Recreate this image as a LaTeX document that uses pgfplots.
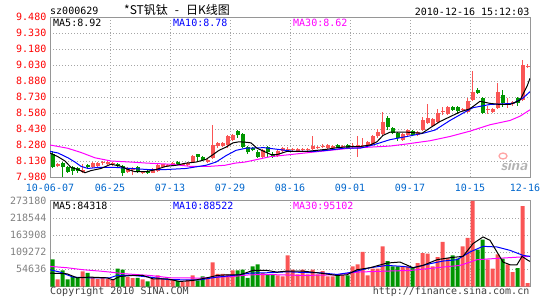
\documentclass[border=0pt]{standalone}
\usepackage{pgfplots}
\pgfplotsset{compat=1.18}
\usepackage{pgfplotstable}
\usepackage{fontspec}
\setmonofont{DejaVu Sans Mono}
\newfontfamily\cjk{Noto Sans CJK SC}
\definecolor{kred}{RGB}{250,85,85}
\definecolor{kgreen}{RGB}{0,150,0}
\definecolor{datecol}{RGB}{0,102,204}
\definecolor{framec}{RGB}{150,150,150}
\definecolor{gridc}{RGB}{165,165,165}
\definecolor{ma10}{RGB}{0,0,255}
\definecolor{ma30}{RGB}{255,0,255}
\newcommand{\mono}{\ttfamily\fontsize{10}{10}\selectfont}

\pgfplotstableread{
i o h l c
1 8.08 8.11 8.07 8.10
6 8.03 8.10 8.02 8.05
8 8.07 8.12 8.06 8.11
9 8.08 8.12 8.07 8.11
10 8.11 8.13 8.09 8.12
11 8.10 8.13 8.09 8.12
12 8.10 8.12 8.08 8.11
15 8.03 8.07 8.02 8.06
16 8.05 8.07 8.00 8.06
18 8.02 8.04 8.01 8.03
20 8.02 8.06 8.02 8.05
21 8.04 8.10 8.03 8.09
22 8.07 8.10 8.06 8.10
23 8.08 8.10 8.07 8.09
24 8.09 8.12 8.08 8.11
26 8.09 8.11 8.08 8.10
27 8.09 8.12 8.08 8.11
28 8.12 8.19 8.11 8.18
31 8.12 8.15 8.11 8.14
32 8.16 8.47 8.15 8.28
33 8.27 8.31 8.25 8.30
34 8.27 8.31 8.26 8.30
35 8.28 8.37 8.25 8.36
36 8.33 8.38 8.32 8.37
42 8.17 8.24 8.15 8.23
45 8.18 8.24 8.17 8.22
46 8.22 8.26 8.21 8.25
47 8.23 8.26 8.22 8.24
48 8.23 8.25 8.22 8.24
49 8.22 8.25 8.21 8.24
50 8.23 8.25 8.22 8.24
51 8.23 8.25 8.22 8.24
52 8.24 8.36 8.23 8.27
53 8.25 8.27 8.24 8.26
54 8.26 8.29 8.25 8.27
55 8.25 8.29 8.24 8.28
56 8.25 8.28 8.24 8.27
58 8.26 8.28 8.25 8.27
60 8.26 8.30 8.25 8.27
61 8.26 8.36 8.17 8.28
62 8.27 8.35 8.26 8.28
63 8.27 8.32 8.26 8.31
64 8.29 8.37 8.28 8.36
65 8.36 8.43 8.35 8.40
66 8.38 8.59 8.37 8.50
70 8.33 8.39 8.32 8.38
71 8.37 8.43 8.36 8.42
73 8.37 8.41 8.36 8.40
74 8.42 8.54 8.41 8.51
75 8.49 8.66 8.48 8.53
76 8.46 8.53 8.45 8.52
77 8.50 8.62 8.49 8.58
78 8.59 8.64 8.56 8.60
79 8.57 8.65 8.56 8.64
82 8.61 8.63 8.60 8.62
83 8.59 8.72 8.58 8.69
84 8.70 8.97 8.69 8.78
87 8.61 8.65 8.57 8.62
88 8.59 8.63 8.58 8.62
89 8.63 8.86 8.62 8.78
91 8.66 8.72 8.63 8.67
92 8.66 8.69 8.65 8.68
94 8.70 9.08 8.69 9.03
95 9.01 9.04 9.00 9.02
}\redk

\pgfplotstableread{
i o h l c
0 8.20 8.22 8.06 8.07
2 8.11 8.12 7.98 8.07
3 8.07 8.08 8.02 8.03
4 8.07 8.08 8.00 8.04
5 8.06 8.07 8.02 8.04
7 8.09 8.10 8.06 8.07
13 8.10 8.11 8.07 8.08
14 8.08 8.09 7.99 8.02
17 8.07 8.08 8.02 8.03
19 8.04 8.05 8.01 8.02
25 8.12 8.13 8.09 8.10
29 8.20 8.20 8.13 8.17
30 8.17 8.18 8.13 8.14
37 8.41 8.42 8.35 8.37
38 8.38 8.39 8.25 8.26
39 8.26 8.27 8.20 8.21
40 8.25 8.26 8.22 8.23
41 8.21 8.23 8.16 8.17
43 8.26 8.27 8.17 8.21
44 8.20 8.21 8.16 8.17
57 8.28 8.29 8.25 8.26
59 8.28 8.29 8.24 8.25
67 8.53 8.55 8.42 8.45
68 8.44 8.45 8.38 8.39
69 8.39 8.40 8.32 8.35
72 8.41 8.42 8.36 8.37
80 8.64 8.65 8.60 8.61
81 8.64 8.65 8.57 8.60
85 8.80 8.81 8.76 8.77
86 8.72 8.73 8.57 8.58
90 8.75 8.80 8.64 8.67
93 8.72 8.73 8.65 8.67
}\greenk

\pgfplotstableread{
i v
1 22400
6 48000
8 29900
9 24500
10 26700
11 24500
12 22400
15 29900
16 26700
18 22400
20 24500
21 35200
22 24500
23 21300
24 22400
26 13900
27 22000
28 35200
31 24500
32 76800
33 40500
34 40500
35 38400
36 51200
42 42700
45 35200
46 32000
47 99200
48 53400
49 38400
50 53400
51 38400
52 53400
53 38400
54 49100
55 32000
56 32000
58 35200
60 64000
61 70400
62 110000
63 35200
64 56600
65 56600
66 128000
70 64000
71 64000
73 74700
74 106700
75 104600
76 64000
77 93900
78 141900
79 90700
82 128000
83 154700
84 273180
87 85400
88 56600
89 102400
91 70400
92 45900
94 256100
95 10700
}\volred

\pgfplotstableread{
i v
0 86400
2 51200
3 22400
4 29900
5 26700
7 43700
13 56600
14 53400
17 27700
19 16000
25 17100
29 19200
30 32000
37 51200
38 53400
39 27700
40 64000
41 70400
43 37300
44 38400
57 38400
59 35200
67 81100
68 64000
69 64000
72 59800
80 99200
81 88600
85 117400
86 149400
90 88600
93 58700
}\volgreen

\pgfplotsset{
  kbase/.style={
    scale only axis, anchor=south west,
    xmin=-0.5, xmax=95.5,
    axis line style={framec, line width=0.8pt},
    major tick length=0pt,
    grid=major,
    grid style={gridc, line width=0.8pt, dash pattern=on 0.8pt off 2.2pt},
    xtick={-0.5,11.5,23.5,35.5,47.5,59.5,71.5,83.5},
    scaled y ticks=false,
    yticklabel style={font=\mono, anchor=east, inner sep=0pt, xshift=-3.5pt},
  },
  wick/.style={draw=none, mark=none, forget plot,
    error bars/.cd, y dir=plus, y explicit, error mark=none,
    error bar style={draw=#1, solid, line width=1pt}},
  body/.style={draw=none, mark=none, forget plot,
    error bars/.cd, y dir=plus, y explicit, error mark=none,
    error bar style={draw=#1, solid, line width=4pt}},
}

\begin{document}
\begin{tikzpicture}
\useasboundingbox (0pt,0pt) rectangle (545pt,300pt);

% ---------- price panel ----------
\begin{axis}[kbase,
  at={(50pt,123pt)}, width=480pt, height=160pt,
  ymin=7.98, ymax=9.48,
  ytick={7.98,8.13,8.28,8.43,8.58,8.73,8.88,9.03,9.18,9.33,9.48},
  yticklabels={7.980,8.130,8.280,8.430,8.580,8.730,8.880,9.030,9.180,9.330,9.480},
  yticklabel style={text=red},
  xticklabels={10-06-07,06-25,07-13,07-29,08-16,09-01,09-17,10-15},
  extra x ticks={94.5}, extra x tick labels={12-16},
  extra x tick style={grid=none},
  xticklabel style={font=\mono, text=datecol, anchor=center, inner sep=0pt, yshift=-11.3pt},
]
\addplot[wick=kred] table[x=i, y=l, y error plus expr=\thisrow{h}-\thisrow{l}] {\redk};
\addplot[wick=kgreen] table[x=i, y=l, y error plus expr=\thisrow{h}-\thisrow{l}] {\greenk};
\addplot[body=kred] table[x=i, y=o, y error plus expr=\thisrow{c}-\thisrow{o}] {\redk};
\addplot[body=kgreen] table[x=i, y=c, y error plus expr=\thisrow{o}-\thisrow{c}] {\greenk};

\addplot[ma30, line width=1pt, mark=none] coordinates {
(-0.5,8.28) (3.0,8.25) (5.7,8.21) (8.5,8.16) (11.7,8.13) (15.7,8.12) (19.0,8.11)
(23.5,8.10) (27.5,8.08) (31.5,8.08) (34.5,8.09) (36.5,8.11) (38.5,8.12) (41.5,8.15)
(43.5,8.17) (47.5,8.19) (51.5,8.21) (55.5,8.23) (59.5,8.25) (63.5,8.26) (67.5,8.27)
(70.9,8.29) (75.5,8.32) (79.5,8.36) (83.5,8.41) (87.5,8.47) (91.5,8.51) (93.5,8.55) (95.5,8.61)};
\addplot[ma10, line width=1pt, mark=none] coordinates {
(-0.5,8.22) (1.1,8.205) (3.1,8.16) (4.5,8.12) (5.7,8.08) (7.1,8.06) (9.1,8.07) (12.5,8.07)
(15.7,8.06) (19.1,8.05) (22.7,8.05) (26.7,8.06) (30.7,8.09) (32.7,8.12) (34.7,8.18)
(36.7,8.23) (38.7,8.25) (42.3,8.255) (44.9,8.24) (48.3,8.22) (52.3,8.22) (54.9,8.23)
(58.3,8.25) (61.5,8.25) (64.1,8.28) (67.5,8.33) (70.9,8.36) (74.1,8.39) (76.5,8.42)
(79.5,8.51) (82.9,8.60) (84.1,8.63) (87.5,8.66) (92.1,8.67) (94.1,8.72) (95.5,8.78)};
\addplot[black, line width=1pt, mark=none] coordinates {
(-0.5,8.205) (1.1,8.17) (2.5,8.13) (3.7,8.07) (5.1,8.05) (6.5,8.02) (7.7,8.04) (9.7,8.06)
(11.7,8.10) (13.7,8.08) (15.1,8.05) (16.5,8.03) (18.7,8.03) (20.7,8.05) (22.7,8.08)
(24.7,8.09) (26.7,8.11) (28.7,8.12) (30.7,8.145) (32.1,8.19) (33.3,8.23) (34.7,8.26)
(36.1,8.30) (37.3,8.31) (38.9,8.305) (39.7,8.30) (40.9,8.25) (42.3,8.22) (43.7,8.19)
(44.9,8.19) (46.9,8.22) (48.9,8.22) (50.9,8.22) (52.9,8.23) (54.9,8.24) (56.9,8.255)
(59.5,8.265) (61.5,8.265) (63.5,8.28) (64.9,8.31) (66.1,8.37) (67.5,8.40) (70.9,8.40)
(72.5,8.395) (73.9,8.39) (75.5,8.44) (77.5,8.50) (79.5,8.545) (81.5,8.59) (83.5,8.62)
(85.5,8.69) (87.5,8.67) (89.5,8.66) (91.5,8.66) (93.5,8.70) (94.9,8.83) (95.5,8.905)};
\end{axis}

% ---------- volume panel ----------
\begin{axis}[kbase,
  at={(50pt,13.5pt)}, width=480pt, height=85.75pt,
  ymin=0, ymax=273180,
  ytick={54636,109272,163908,218544,273180},
  yticklabels={54636,109272,163908,218544,273180},
  yticklabel style={text=gray},
  xticklabels={},
]
\addplot[ybar, bar width=0.8, bar shift=0pt, fill=kred, draw=none, mark=none] table[x=i, y=v] {\volred};
\addplot[ybar, bar width=0.8, bar shift=0pt, fill=kgreen, draw=none, mark=none] table[x=i, y=v] {\volgreen};

\addplot[ma30, line width=1pt, mark=none] coordinates {
(-0.5,64000) (2.9,59800) (6.1,53400) (9.5,49100) (11.5,45900) (14.5,40500) (19.5,35200)
(23.5,27700) (26.9,27700) (29.5,26700) (32.9,29900) (36.1,32000) (39.5,37300) (43.5,38000)
(50.1,35200) (56.9,37300) (60.9,45900) (66.9,49100) (71.5,51200) (74.9,56600) (78.1,61900)
(81.5,67200) (84.9,85400) (86.9,87500) (90.1,90700) (93.5,93900) (95.5,96000)};
\addplot[ma10, line width=1pt, mark=none] coordinates {
(-0.5,53400) (1.5,45900) (4.1,29900) (7.5,27700) (11.5,27700) (12.9,35200) (16.1,35200)
(19.5,29900) (22.9,22400) (26.1,21300) (29.5,21300) (32.9,29900) (36.1,35200) (39.5,42700)
(43.5,44000) (46.9,46900) (50.1,44800) (53.5,43700) (56.9,38400) (60.1,45900) (63.5,59800)
(66.9,67200) (70.1,64000) (72.1,59800) (75.5,72600) (78.1,81100) (80.9,85400) (83.5,109900)
(86.1,128000) (88.9,125900) (91.5,115200) (94.1,99200) (95.5,96000)};
\addplot[black, line width=1pt, mark=none] coordinates {
(-0.5,42700) (2.9,40500) (4.9,27700) (7.5,29900) (10.9,27700) (12.1,21300) (13.5,32000)
(16.1,35200) (18.1,35200) (20.1,24500) (22.9,24500) (25.5,16000) (28.1,19200) (30.9,27700)
(32.9,35200) (34.9,37300) (37.5,37300) (40.1,51200) (42.9,51200) (44.9,45900) (46.9,49100)
(50.1,49100) (53.5,42700) (56.9,35200) (58.9,37300) (60.9,53400) (63.5,59800) (66.9,74700)
(69.5,77900) (72.1,59800) (74.1,67200) (76.9,85400) (79.5,91800) (82.1,96000) (84.1,136600)
(86.1,157900) (87.5,147200) (88.9,109900) (90.1,77900) (91.5,69300) (92.9,69300)
(93.9,96000) (95.1,83200) (95.5,80000)};
\end{axis}

% ---------- texts ----------
\node[anchor=west, inner sep=0pt, font=\mono] at (50pt,289pt) {sz000629};
\node[inner sep=0pt, font=\cjk\fontsize{12}{12}\selectfont] at (177pt,290pt) {*ST钒钛\hspace{7pt}-\hspace{7pt}日K线图};
\node[anchor=east, inner sep=0pt, font=\mono] at (529.5pt,288.3pt) {2010-12-16 15:12:03};

\node[anchor=west, inner sep=0pt, font=\mono, text=black] at (53pt,276.7pt) {MA5:8.92};
\node[anchor=west, inner sep=0pt, font=\mono, text=ma10] at (173pt,276.7pt) {MA10:8.78};
\node[anchor=west, inner sep=0pt, font=\mono, text=ma30] at (293pt,276.7pt) {MA30:8.62};

\node[anchor=west, inner sep=0pt, font=\mono, text=black] at (53pt,94.3pt) {MA5:84318};
\node[anchor=west, inner sep=0pt, font=\mono, text=ma10] at (173pt,94.3pt) {MA10:88522};
\node[anchor=west, inner sep=0pt, font=\mono, text=ma30] at (293pt,94.3pt) {MA30:95102};

\node[anchor=west, inner sep=0pt, font=\mono, text=black!75] at (50pt,7.8pt) {Copyright 2010 SINA.COM};
\node[anchor=east, inner sep=0pt, font=\mono, text=black!75] at (529.5pt,7.8pt) {http://finance.sina.com.cn};

\node[inner sep=0pt, font=\sffamily\bfseries\itshape\fontsize{15}{15}\selectfont, text=black!30] at (514pt,134pt) {sina};
\draw[red!35, line width=1.3pt] (503pt,144pt) ellipse (4pt and 3pt);
\end{tikzpicture}
\end{document}
